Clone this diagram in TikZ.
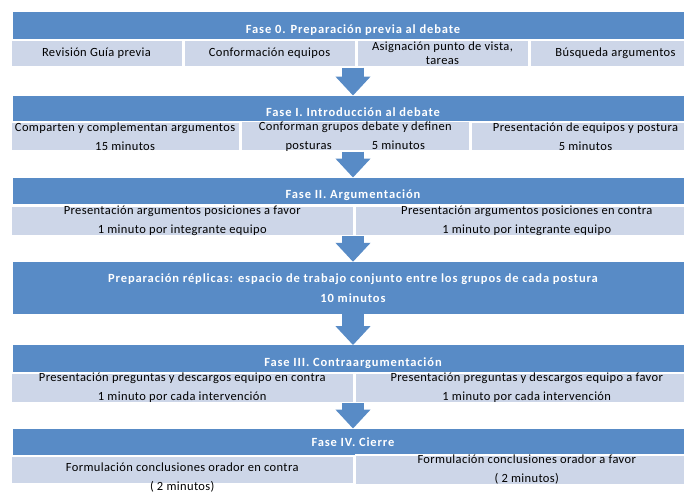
\documentclass[tikz,border=0pt]{standalone}
\usepackage{fontspec}
\setmainfont{Carlito}[LetterSpace=3]
\newfontfamily\headfont{Carlito}[UprightFont={* Bold}, LetterSpace=7]
\usetikzlibrary{positioning, arrows.meta}
\definecolor{phaseblue}{RGB}{88,139,198}
\definecolor{taskgray}{RGB}{205,214,232}
\tikzset{%
	phase/.style={rectangle, fill=phaseblue, minimum width=680pt, minimum height=26.5pt,%
		inner sep=0pt, text=white, align=center, font=\headfont\fontsize{12.5}{20}\selectfont},
	sunk/.style={text height=15.5pt, text depth=0pt},
	task/.style={rectangle, draw=white, line width=1.5pt, fill=taskgray, minimum height=28pt,%
		inner sep=0pt, align=center, font=\fontsize{12.5}{19}\selectfont},
	quarter/.style={task, minimum width=171.5pt, minimum height=27pt},
	third/.style={task, minimum width=228.7pt, minimum height=29pt},
	half/.style={task, minimum width=343pt},
	down/.style={phaseblue, line width=22pt, -{Triangle[width=34pt, length=19pt]}}
}
\begin{document}
\begin{tikzpicture}[x=1pt, y=-1pt]
	\clip (0,0) rectangle (684,491);
	% fase 0
	\node[phase, sunk] (h0) at (353,25.5) {Fase 0. Preparación previa al debate};
	\node[quarter, anchor=north west] (t01) at (10,39) {Revisión Guía previa};
	\node[quarter, right=0pt of t01] (t02) {Conformación equipos};
	\node[quarter, right=0pt of t02, font=\fontsize{12.5}{14}\selectfont] (t03) {Asignación punto de vista,\\tareas};
	\node[quarter, right=0pt of t03] (t04) {Búsqueda argumentos};
	% fase I
	\node[phase, sunk] (h1) at (353,109) {Fase I. Introducción al debate};
	\node[third, anchor=north west] (t11) at (10,121) {Comparten y complementan argumentos\\15 minutos};
	\node[third, right=0pt of t11] (t12) {Conforman grupos debate y definen\\posturas\hspace{40pt}5 minutos};
	\node[third, right=0pt of t12] (t13) {Presentación de equipos y postura\\5 minutos};
	% fase II
	\node[phase, sunk] (h2) at (353,191) {Fase II. Argumentación};
	\node[half, anchor=north west] (t21) at (10,205) {Presentación argumentos posiciones a favor\\1 minuto por integrante equipo};
	\node[half, right=0pt of t21] (t22) {Presentación argumentos posiciones en contra\\1 minuto por integrante equipo};
	% replicas
	\node[phase, minimum height=52pt] (p) at (353,288) {Preparación réplicas: espacio de trabajo conjunto entre los grupos de cada postura\\10 minutos};
	% fase III
	\node[phase, sunk] (h3) at (353,358.5) {Fase III. Contraargumentación};
	\node[half, anchor=north west] (t31) at (10,372) {Presentación preguntas y descargos equipo en contra\\1 minuto por cada intervención};
	\node[half, right=0pt of t31] (t32) {Presentación preguntas y descargos equipo a favor\\1 minuto por cada intervención};
	% fase IV
	\node[phase] (h4) at (353,442) {Fase IV. Cierre};
	\node[half, anchor=north west, label={[align=center, font=\fontsize{12.5}{19}\selectfont, yshift=-8pt]center:Formulación conclusiones orador en contra\\( 2 minutos)}] (t41) at (10,455) {};
	\node[half, right=0pt of t41] (t42) {Formulación conclusiones orador a favor\\( 2 minutos)};

	\draw[down] (h0 |- t01.south) -- (h1.north);
	\draw[down] (h1 |- t11.south) -- (h2.north);
	\draw[down] (h2 |- t21.south) -- (p.north);
	\draw[down] (p.south) -- (h3.north);
	\draw[down] (h3 |- t31.south) -- (h4.north);
\end{tikzpicture}
\end{document}
